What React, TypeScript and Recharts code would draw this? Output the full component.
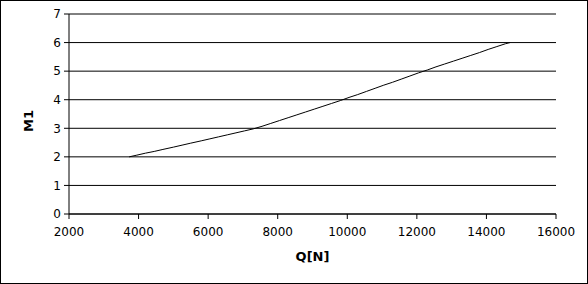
import React from "react";
import { LineChart, Line, XAxis, YAxis, CartesianGrid, Label } from "recharts";

const qValues = [
  3730, 3950, 4200, 4450, 4700, 5000, 5250, 5500, 5800, 6050, 6300, 6550, 6800, 7050, 7300,
  7550, 7800, 8050, 8300, 8550, 8800, 9050, 9300, 9550, 9800, 10050, 10300, 10550, 10800,
  11050, 11300, 11550, 11800, 12050, 12300, 12550, 12800, 13050, 13300, 13550, 13800, 14050,
  14300, 14550, 14680,
];
const m1Values = [
  2.0, 2.06, 2.13, 2.19, 2.26, 2.34, 2.41, 2.48, 2.56, 2.63, 2.7, 2.77, 2.84, 2.91, 2.98,
  3.07, 3.17, 3.27, 3.37, 3.47, 3.57, 3.67, 3.77, 3.87, 3.97, 4.08, 4.18, 4.29, 4.4,
  4.51, 4.61, 4.72, 4.83, 4.94, 5.04, 5.15, 5.25, 5.35, 5.45, 5.55, 5.65, 5.76,
  5.86, 5.96, 6.0,
];
const xTicks = [2000, 4000, 6000, 8000, 10000, 12000, 14000, 16000];
const yTicks = [0, 1, 2, 3, 4, 5, 6, 7];

const data = qValues.map((q, i) => ({ q, m1: m1Values[i] }));

const FONT = "'DejaVu Sans', sans-serif";

export default function App() {
  return (
    <div
      style={{
        position: "absolute",
        left: 0,
        top: 0,
        width: 588,
        height: 284,
        border: "1px solid #000",
        boxSizing: "border-box",
        background: "#fff",
      }}
    >
      <LineChart
        width={586}
        height={282}
        data={data}
        margin={{ top: 13, right: 31, left: 0, bottom: 39 }}
        style={{ fontFamily: FONT }}
      >
        <CartesianGrid vertical={false} stroke="#000" strokeOpacity={1} />
        <XAxis
          dataKey="q"
          type="number"
          domain={[2000, 16000]}
          ticks={xTicks}
          height={30}
          stroke="#000"
          tickSize={5}
          tickMargin={8}
          tick={{ fill: "#000", fontSize: 12, fontFamily: FONT }}
          tickLine={{ stroke: "#000" }}
          axisLine={{ stroke: "#000" }}
          interval={0}
        >
          <Label
            content={(props: any) => {
              const vb = props.viewBox;
              return (
                <text
                  x={vb.x + vb.width / 2}
                  y={255}
                  textAnchor="middle"
                  dominantBaseline="central"
                  fontFamily={FONT}
                  fontWeight="bold"
                  fontSize={13}
                  fill="#000"
                >
                  Q[N]
                </text>
              );
            }}
          />
        </XAxis>
        <YAxis
          type="number"
          domain={[0, 7]}
          ticks={yTicks}
          width={68}
          stroke="#000"
          tickSize={5}
          tickMargin={3}
          tick={{ fill: "#000", fontSize: 12, fontFamily: FONT }}
          tickLine={{ stroke: "#000" }}
          axisLine={{ stroke: "#000" }}
          interval={0}
        >
          <Label
            content={() => (
              <text
                x={27}
                y={120}
                textAnchor="middle"
                dominantBaseline="central"
                transform="rotate(-90 27 120)"
                fontFamily={FONT}
                fontWeight="bold"
                fontSize={13}
                fill="#000"
              >
                M1
              </text>
            )}
          />
        </YAxis>
        <Line
          type="linear"
          dataKey="m1"
          stroke="#000"
          strokeWidth={1}
          dot={false}
          isAnimationActive={false}
        />
      </LineChart>
    </div>
  );
}
